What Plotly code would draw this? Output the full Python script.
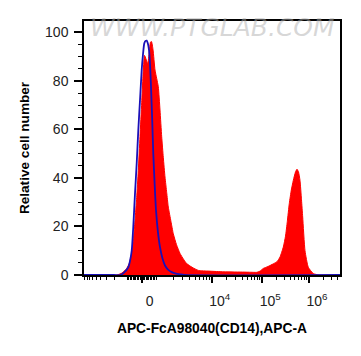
import math
import plotly.graph_objects as go

# ---------------- data (x in display channels of the biexponential axis) -------------
sample_channel = [0, 20, 32.7, 38, 42.7, 45.5, 47.7, 49.5, 51, 52.7, 54.3, 56, 57.7, 59, 60.5,
                  62, 63.7, 65.3, 66.5, 67.5, 69, 71, 72.7, 74.3, 76, 77.7, 79.3,
                  81, 82.7, 84.3, 87, 89.3, 92.5, 96, 99.5, 102.7, 108, 114.3, 125, 140, 160, 170,
                  172.7, 176, 179.3, 184, 189.3, 193, 196, 199.3, 201.5, 203.3, 205.3, 207.3,
                  209.3, 211.5, 213, 214.5, 216, 217.5, 218.7, 221, 224.3, 229.3, 235, 256]
sample_count = [0, 0, 0, 0.8, 2.7, 5, 9, 15, 22.5, 32, 43, 57, 71, 82, 90.5,
                89, 87, 92, 96, 96.2, 93, 84.5, 81, 77.6, 68, 57, 48.5,
                40.4, 34, 28, 22, 17, 12.5, 8.9, 6.5, 4.7, 3.2, 1.9, 1.6, 1.3, 1.2, 1.1,
                1.1, 1.6, 2.7, 3.5, 4.6, 5.5, 7.4, 11.5, 16, 22, 29.5, 35, 39, 42.5, 43.6,
                42.5, 39, 31, 23.9, 10, 3.2, 0.6, 0, 0]

control_channel = [0, 30, 36, 40, 44.3, 46, 47.7, 49.3, 51, 52.7, 54.3, 56, 57.7, 59, 60.3,
                   61.5, 62.7, 63.8, 65, 66, 67, 68.2, 69.3, 70.7, 72, 74, 76, 78.5, 81, 84,
                   87.7, 92, 96, 100, 256]
control_count = [0, 0, 0, 1, 3.2, 5.8, 10, 20, 33.6, 46, 59.7, 72, 84.5, 91, 95.5,
                 96.5, 96.6, 95.5, 92.8, 87, 77.6, 64, 50, 37, 26.7, 17.5, 11.5, 6.8, 3.9, 2.2,
                 1.2, 0.6, 0.3, 0, 0]

x_tick_values = [0, 1e4, 1e5, 1e6]
x_tick_labels = ["0", "10<sup>4</sup>", "10<sup>5</sup>", "10<sup>6</sup>"]
y_tick_values = [0, 20, 40, 60, 80, 100]

x_title = "APC-FcA98040(CD14),APC-A"
y_title = "Relative cell number"
watermark = "WWW.PTGLAB.COM"


# ---------------- biexponential-like display transform (value -> channel) ------------
def biex(v):
    if -1000 <= v <= 1000:
        return 57.7 + 14.5 * v / 1000.0
    if v > 1000:
        if v <= 1e4:
            return 72.7 + 55.0 * math.log10(v / 1e3)
        if v <= 1e5:
            return 127.7 + 50.6 * math.log10(v / 1e4)
        return 178.3 + 46.7 * math.log10(v / 1e5)
    return 43.7 - 45.0 * math.log10(-v / 1e3)


minor_values = [-1000, 1000]
for k in range(1, 10):
    minor_values += [-100 * k, 100 * k]
for k in range(2, 10):
    minor_values += [-1000 * k, 1000 * k, 1e4 * k, 1e5 * k, 1e6 * k]
minor_ch = sorted(c for c in (biex(v) for v in minor_values) if 0 <= c <= 256)

fig = go.Figure()
fig.add_trace(go.Scatter(x=sample_channel, y=sample_count, mode="lines",
                         line=dict(color="#ff0000", width=1, shape="spline", smoothing=0.5),
                         fill="tozeroy", fillcolor="#ff0000", hoverinfo="skip"))
fig.add_trace(go.Scatter(x=control_channel, y=control_count, mode="lines",
                         line=dict(color="#1a10b8", width=1.8, shape="spline", smoothing=0.6),
                         hoverinfo="skip"))

font_family = "Liberation Sans, Arial, sans-serif"
major_ch = [biex(v) for v in x_tick_values]

# page body adds an 8 px offset; the figure is sized/margined to compensate
fig.update_layout(
    width=353, height=348,
    margin=dict(l=76, r=21, t=13, b=81),
    paper_bgcolor="white", plot_bgcolor="white",
    showlegend=False,
    font=dict(family=font_family, color="#222222", size=13),
    xaxis=dict(
        range=[0, 256], showgrid=False, zeroline=False,
        showline=True, linecolor="black", linewidth=1.5, mirror=True,
        ticks="outside", tickvals=major_ch, ticktext=x_tick_labels,
        ticklen=6, tickwidth=2, tickcolor="black",
        ticklabelshift=8, ticklabelstandoff=6,
        tickfont=dict(size=14, color="#222222"),
        minor=dict(tickvals=minor_ch, ticklen=3, tickwidth=1, tickcolor="black", ticks="outside"),
        title=dict(text="<b>" + x_title + "</b>", font=dict(size=13.8, color="black"), standoff=16),
    ),
    yaxis=dict(
        range=[0, 104.7], showgrid=False, zeroline=False,
        showline=True, linecolor="black", linewidth=1.5, mirror=True,
        ticks="outside", tickvals=y_tick_values, ticklen=8, tickwidth=2, tickcolor="black",
        ticklabelstandoff=3,
        tickfont=dict(size=14, color="#222222"),
        minor=dict(dtick=5, ticklen=4, tickwidth=1, tickcolor="black", ticks="outside"),
        title=dict(text="<b>" + y_title + "</b>", font=dict(size=13.6, color="black"), standoff=12),
    ),
    annotations=[dict(text=watermark, xref="paper", yref="paper", x=0.5, y=0.975,
                      xanchor="center", yanchor="middle", showarrow=False,
                      font=dict(family="DejaVu Sans", size=25, color="rgba(175,175,175,0.5)",
                                style="italic"))],
)

fig.write_html("out.html")
